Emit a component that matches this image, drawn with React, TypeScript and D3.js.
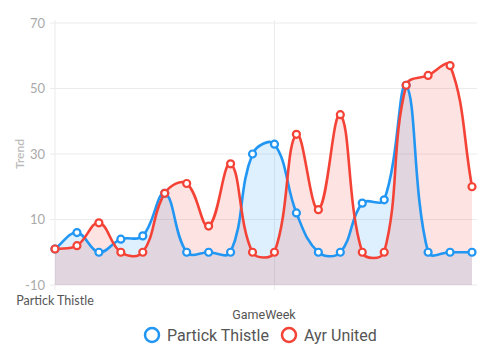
import React from "react";
import * as d3 from "d3";

const weeks: number[] = d3.range(20);
const partickThistle: number[] = [1, 6, 0, 4, 5, 18, 0, 0, 0, 30, 33, 12, 0, 0, 15, 16, 51, 0, 0, 0];
const ayrUnited: number[] = [1, 2, 9, 0, 0, 18, 21, 8, 27, 0, 0, 36, 13, 42, 0, 0, 51, 54, 57, 20];
const yTicks: number[] = [-10, 10, 30, 50, 70];
const seriesNames: string[] = ["Partick Thistle", "Ayr United"];
const xTickLabels: string[] = ["Partick Thistle"];

const BLUE = "#2196F3";
const RED = "#F44336";

// Chart.js-like spline (tension 0.4) as a d3 curve
function chartJsCurve(context: any) {
  return new (class {
    _context: any = context;
    _line: any;
    _pts: [number, number][] = [];
    areaStart() { this._line = 0; }
    areaEnd() { this._line = NaN; }
    lineStart() { this._pts = []; }
    point(x: number, y: number) { this._pts.push([+x, +y]); }
    lineEnd() {
      const p = this._pts;
      const n = p.length;
      const ctx = this._context;
      if (n > 0) {
        if (this._line) ctx.lineTo(p[0][0], p[0][1]);
        else ctx.moveTo(p[0][0], p[0][1]);
        const t = 0.4;
        const cps = p.map((cur, i) => {
          const prev = p[Math.max(0, i - 1)];
          const next = p[Math.min(n - 1, i + 1)];
          const d01 = Math.hypot(cur[0] - prev[0], cur[1] - prev[1]);
          const d12 = Math.hypot(next[0] - cur[0], next[1] - cur[1]);
          let s01 = d01 / (d01 + d12);
          let s12 = d12 / (d01 + d12);
          if (!isFinite(s01)) s01 = 0;
          if (!isFinite(s12)) s12 = 0;
          const fa = t * s01, fb = t * s12;
          return {
            px: cur[0] - fa * (next[0] - prev[0]),
            py: cur[1] - fa * (next[1] - prev[1]),
            nx: cur[0] + fb * (next[0] - prev[0]),
            ny: cur[1] + fb * (next[1] - prev[1]),
          };
        });
        for (let i = 1; i < n; i++) {
          ctx.bezierCurveTo(cps[i - 1].nx, cps[i - 1].ny, cps[i].px, cps[i].py, p[i][0], p[i][1]);
        }
      }
      if (this._line || (this._line !== 0 && n === 1)) ctx.closePath();
      this._line = 1 - this._line;
    }
  })();
}

export default function App() {
  const width = 500, height = 354;
  const x = d3.scalePoint<number>().domain(weeks).range([55, 472]);
  const y = d3.scaleLinear().domain([-10, 70]).range([285, 23]);

  const line = d3.line<number>().x((_, i) => x(i)!).y((d) => y(d)).curve(chartJsCurve as any);
  const area = d3.area<number>().x((_, i) => x(i)!).y0(y(-10)).y1((d) => y(d)).curve(chartJsCurve as any);

  const series = [
    { name: seriesNames[0], data: partickThistle, color: BLUE, fill: "rgba(33,150,243,0.15)" },
    { name: seriesNames[1], data: ayrUnited, color: RED, fill: "rgba(244,67,54,0.15)" },
  ];

  return (
    <svg width={width} height={height} style={{ position: "absolute", left: 0, top: 0 }}>
      {/* grid */}
      {yTicks.map((t) => (
        <g key={t}>
          <line x1={50} x2={477} y1={y(t)} y2={y(t)} stroke="#ebebeb" strokeWidth={1} />
          <text x={45} y={y(t)} dy="0.35em" textAnchor="end" fontFamily="Lato" fontSize={13} fill="#aaa">{t}</text>
        </g>
      ))}
      <line x1={55} x2={55} y1={20} y2={290} stroke="#ebebeb" />
      <line x1={x(10)} x2={x(10)} y1={20} y2={290} stroke="#ebebeb" />
      <text transform={`translate(24,${(y(-10) + y(70)) / 2}) rotate(-90)`} textAnchor="middle" fontFamily="Lato" fontWeight={600} fontSize={12} fill="#bbb">Trend</text>
      <text x={x(0)} y={305} textAnchor="middle" fontFamily="Lato" fontSize={12.5} fill="#555">{xTickLabels[0]}</text>
      <text x={264} y={319} textAnchor="middle" fontFamily="Roboto" fontSize={12.5} fill="#555">GameWeek</text>

      {series.map((s) => (
        <path key={s.name + "a"} d={area(s.data)!} fill={s.fill} />
      ))}
      {series.map((s) => (
        <path key={s.name + "l"} d={line(s.data)!} fill="none" stroke={s.color} strokeWidth={2.6} />
      ))}
      {series.map((s) => (
        <g key={s.name + "p"}>
          {s.data.map((d, i) => (
            <circle key={i} cx={x(i)} cy={y(d)} r={3.5} fill="#fff" stroke={s.color} strokeWidth={2.2} />
          ))}
        </g>
      ))}

      {/* legend */}
      <circle cx={152} cy={335} r={7} fill="#fff" stroke={BLUE} strokeWidth={2.5} />
      <text x={167} y={341} fontFamily="Roboto" fontSize={16} fill="#555">{seriesNames[0]}</text>
      <circle cx={289} cy={335} r={7} fill="#fff" stroke={RED} strokeWidth={2.5} />
      <text x={304} y={341} fontFamily="Roboto" fontSize={16} fill="#555">{seriesNames[1]}</text>
    </svg>
  );
}
